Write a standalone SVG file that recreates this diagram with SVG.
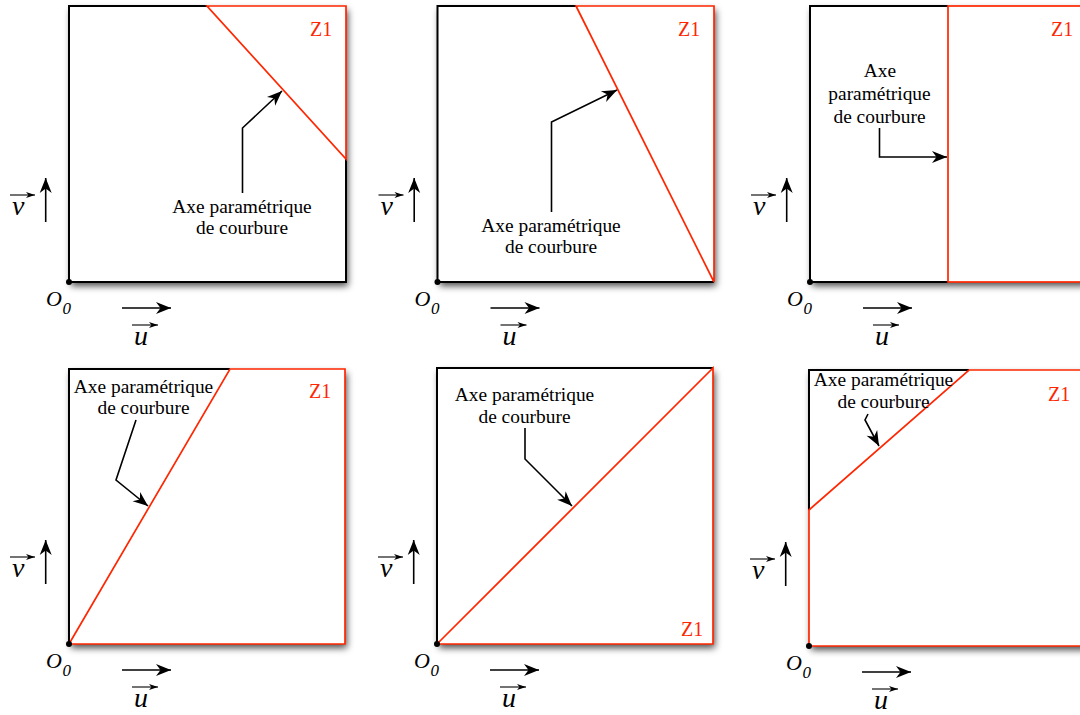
<svg xmlns="http://www.w3.org/2000/svg" width="1080" height="715" viewBox="0 0 1080 715" font-family="Liberation Serif, Times New Roman, serif">
<defs>
<filter id="sh" x="-10%" y="-10%" width="125%" height="125%">
<feDropShadow dx="2" dy="4" stdDeviation="3.5" flood-color="#000" flood-opacity="0.7"/>
</filter>
<marker id="ah" markerUnits="userSpaceOnUse" viewBox="-16 -7 17 14" refX="0" refY="0" markerWidth="17" markerHeight="14" orient="auto">
<path d="M0,0 L-15,-6 L-10.5,0 L-15,6 Z" fill="#000"/>
</marker>
<marker id="as" markerUnits="userSpaceOnUse" viewBox="-10 -4 11 8" refX="0" refY="0" markerWidth="11" markerHeight="8" orient="auto">
<path d="M0,0 L-9,-3 L-6.5,0 L-9,3 Z" fill="#000"/>
</marker>
<g id="axes">
<path d="M53,26 H102" class="ax" marker-end="url(#ah)"/>
<path d="M-23.3,-60 V-104" class="ax" marker-end="url(#ah)"/>
<path d="M63,43 H89" class="axs" marker-end="url(#as)"/>
<path d="M-59,-87 H-34" class="axs" marker-end="url(#as)"/>
<circle cx="0" cy="0" r="3" fill="#000"/>
</g>
</defs>
<style>
.blk{fill:none;stroke:#000;stroke-width:2}
.red{fill:none;stroke:#ff2600;stroke-width:1.7}
.bg{fill:#fff;filter:url(#sh)}
.ax{fill:none;stroke:#000;stroke-width:1.6}
.axs{fill:none;stroke:#000;stroke-width:1.1}
.lbl{font-size:19.4px;fill:#000;text-anchor:middle}
.z1{font-size:20px;fill:#ff2600}
.it{font-style:italic;fill:#000}
.big{font-size:28px}
.o{font-size:22px}
.sub{font-size:17px}
.con{fill:none;stroke:#000;stroke-width:1.6}
</style>
<rect width="1080" height="715" fill="#fff"/>

<g id="panel1">
<rect class="bg" x="69" y="6" width="277" height="276"/>
<path class="blk" d="M207,6 H69 V282 H346 V159"/>
<path class="red" d="M207,6 H346 V159 Z"/>
<text class="z1" x="310" y="36">Z1</text>
<text class="lbl" x="242" y="213">Axe paramétrique</text>
<text class="lbl" x="242" y="234">de courbure</text>
<g transform="translate(69,282)">
<use href="#axes"/>
<text class="it o" x="-23" y="24">O</text><text class="it sub" x="-6.5" y="32">0</text>
<text class="it big" x="65" y="63">u</text>
<text class="it big" x="-57" y="-67">v</text>
</g>
</g>

<g id="panel2">
<rect class="bg" x="437.5" y="6" width="276.5" height="276"/>
<path class="blk" d="M576,6 H437.5 V282 H714"/>
<path class="red" d="M576,6 H714 V282 Z"/>
<text class="z1" x="678" y="36">Z1</text>
<text class="lbl" x="551" y="232">Axe paramétrique</text>
<text class="lbl" x="551" y="253">de courbure</text>
<g transform="translate(437.5,282)">
<use href="#axes"/>
<text class="it o" x="-23" y="24">O</text><text class="it sub" x="-6.5" y="32">0</text>
<text class="it big" x="65" y="63">u</text>
<text class="it big" x="-57" y="-67">v</text>
</g>
</g>

<g id="panel3">
<rect class="bg" x="810" y="6" width="277" height="276"/>
<path class="blk" d="M948,6 H810 V282 H948"/>
<rect class="red" x="948" y="6" width="139" height="276"/>
<text class="z1" x="1051" y="36">Z1</text>
<text class="lbl" x="880" y="77">Axe</text>
<text class="lbl" x="879.5" y="100">paramétrique</text>
<text class="lbl" x="879.5" y="122.5">de courbure</text>
<g transform="translate(810,282)">
<use href="#axes"/>
<text class="it o" x="-23" y="24">O</text><text class="it sub" x="-6.5" y="32">0</text>
<text class="it big" x="65" y="63">u</text>
<text class="it big" x="-57" y="-67">v</text>
</g>
</g>

<g id="panel4">
<rect class="bg" x="69" y="369" width="276" height="275"/>
<path class="blk" d="M230,369 H69 V644"/>
<path class="red" d="M69,644 L230,369 H345 V644 Z"/>
<text class="z1" x="309" y="398">Z1</text>
<text class="lbl" x="143.5" y="392.5">Axe paramétrique</text>
<text class="lbl" x="143.5" y="414">de courbure</text>
<g transform="translate(69,644)">
<use href="#axes"/>
<text class="it o" x="-23" y="24">O</text><text class="it sub" x="-6.5" y="32">0</text>
<text class="it big" x="65" y="63">u</text>
<text class="it big" x="-57" y="-67">v</text>
</g>
</g>

<g id="panel5">
<rect class="bg" x="437" y="368" width="276" height="276"/>
<path class="blk" d="M713,368 H437 V644"/>
<path class="red" d="M437,644 L713,368 V644 Z"/>
<text class="z1" x="681" y="636">Z1</text>
<text class="lbl" x="524.5" y="400.5">Axe paramétrique</text>
<text class="lbl" x="524.5" y="423">de courbure</text>
<g transform="translate(437,644)">
<use href="#axes"/>
<text class="it o" x="-23" y="24">O</text><text class="it sub" x="-6.5" y="32">0</text>
<text class="it big" x="65" y="63">u</text>
<text class="it big" x="-57" y="-67">v</text>
</g>
</g>

<g id="panel6">
<rect class="bg" x="809" y="370" width="278" height="276"/>
<path class="blk" d="M969,370 H809 V510"/>
<path class="red" d="M809,510 L969,370 H1087 V646 H809 Z"/>
<text class="z1" x="1048" y="401">Z1</text>
<text class="lbl" x="883.5" y="386">Axe paramétrique</text>
<text class="lbl" x="883.5" y="408">de courbure</text>
<g transform="translate(809,646)">
<use href="#axes"/>
<text class="it o" x="-23" y="24">O</text><text class="it sub" x="-6.5" y="32">0</text>
<text class="it big" x="65" y="63">u</text>
<text class="it big" x="-57" y="-67">v</text>
</g>
</g>

<g id="connectors">
<path class="con" d="M242.5,193 V128 L282,91" marker-end="url(#ah)"/>
<path class="con" d="M551.5,212 V122 L617,90" marker-end="url(#ah)"/>
<path class="con" d="M879.5,128 V157 H947" marker-end="url(#ah)"/>
<path class="con" d="M136,420 L116,480 L148,506" marker-end="url(#ah)"/>
<path class="con" d="M525,428 V459 L572,506" marker-end="url(#ah)"/>
<path class="con" d="M868,414 L865,420 L879,446" marker-end="url(#ah)"/>
</g>
</svg>
